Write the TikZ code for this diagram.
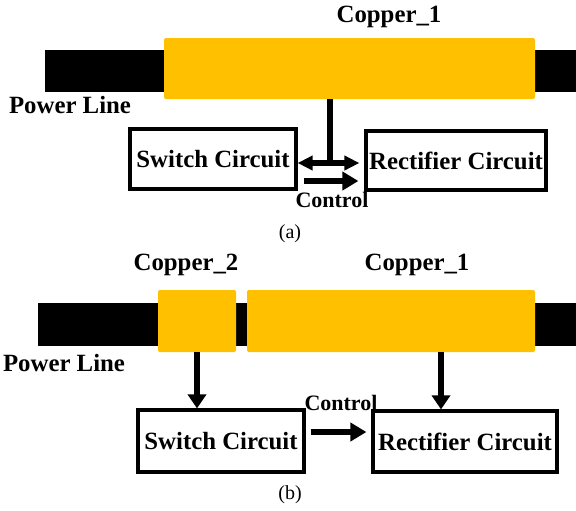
\documentclass[tikz,border=0pt]{standalone}
\usepackage{fontspec}
\setmainfont{Liberation Serif}[BoldFont={Liberation Serif Bold}]
\usetikzlibrary{arrows.meta}
\definecolor{cCu}{HTML}{FFC000}

\begin{document}
\begin{tikzpicture}[
    x=0.5pt, y=-0.5pt, font=\fontsize{12.4}{14}\selectfont\bfseries,
    wire/.style={fill=black, inner sep=0pt},
    cu/.style={fill=cCu, rounded corners=1pt, inner sep=0pt},
    box/.style={draw=black, line width=1.6pt, fill=white, inner sep=0pt},
    lbl/.style={inner sep=1pt},
    ctl/.style={font=\fontsize{11}{13}\selectfont\bfseries, inner sep=1pt},
    subcap/.style={font=\fontsize{10}{12}\selectfont, inner sep=1pt},
    sig/.style={-{Triangle[length=7pt, width=9pt]}, line width=2.6pt},
    ctlarr/.style={-{Triangle[length=8pt, width=9pt]}, line width=3.2pt},
    bus/.style={{Triangle[length=7.5pt, width=7pt]}-{Triangle[length=7.5pt, width=7pt]},
                line width=2.6pt},
]
\useasboundingbox (0,0) rectangle (576,510);

% ===================== (a): una sola pieza de cobre =====================
\node[wire, minimum width=265.5pt, minimum height=21pt] (barA) at (310.5,71) {};
\node[cu, minimum width=185.5pt, minimum height=30.5pt] (copA) at (349.5,68.5) {};
\node[lbl] (cuA) at (389,17) {Copper\_1};
\node[lbl] (plA) at (70,105) {Power Line};

\node[box, minimum width=83pt, minimum height=30pt] (swA) at (213,159) {Switch Circuit};
\node[box, minimum width=90pt, minimum height=29.5pt] (rcA) at (456,160.5) {Rectifier Circuit};

% Toma del cobre: baja y se reparte entre los dos circuitos.
\coordinate (tapA) at (330,163);
\coordinate (ctlA) at (330,181);
\draw[line width=2.9pt] (copA.south -| tapA) -- (tapA);
\draw[bus, shorten >=2.5pt] (swA.east |- tapA) -- (rcA.west |- tapA);
\draw[ctlarr, shorten <=3pt, shorten >=3pt] (swA.east |- ctlA) -- (rcA.west |- ctlA);
\node[ctl] (ctlAl) at (332,200) {Control};

\node[subcap] (capA) at (290,234) {(a)};

% ===================== (b): dos piezas de cobre =====================
\node[wire, minimum width=269pt, minimum height=21.5pt] (barB) at (307,324.5) {};
\node[cu, minimum width=39pt, minimum height=31pt] (copB2) at (197,321) {};
\node[cu, minimum width=144pt, minimum height=31pt] (copB1) at (391,321) {};
\node[lbl] (cuB2) at (186,265) {Copper\_2};
\node[lbl] (cuB1) at (417,265) {Copper\_1};
\node[lbl] (plB) at (64,363) {Power Line};

\node[box, minimum width=83pt, minimum height=31pt] (swB) at (221,441) {Switch Circuit};
\node[box, minimum width=92pt, minimum height=30.5pt] (rcB) at (465,441.5) {Rectifier Circuit};

% Cada cobre alimenta su propio circuito.
\coordinate (tapB) at (441,380);
\coordinate (ctlB) at (340,432);
\draw[sig] (copB2.south) -- (copB2.south |- swB.north);
\draw[sig] (copB1.south -| tapB) -- (rcB.north -| tapB);
\draw[ctlarr, shorten <=2.5pt, shorten >=2.5pt] (swB.east |- ctlB) -- (rcB.west |- ctlB);
\node[ctl] (ctlBl) at (341,403) {Control};

\node[subcap] (capB) at (290,495) {(b)};

\end{tikzpicture}
\end{document}
